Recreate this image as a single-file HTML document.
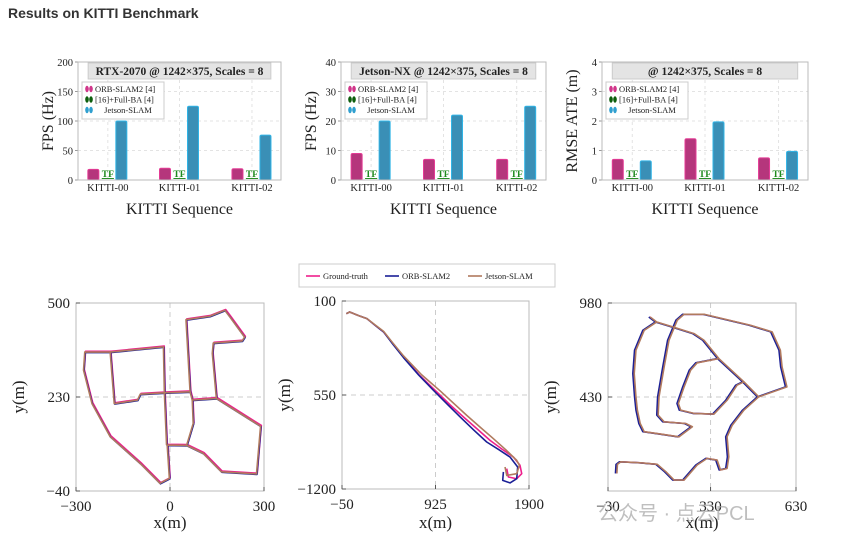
<!DOCTYPE html>
<html><head><meta charset="utf-8"><style>
body{margin:0;background:#fff;width:842px;height:546px;overflow:hidden;font-family:"Liberation Serif",serif;}
#title{position:absolute;left:8px;top:5px;font:bold 14px "Liberation Sans",sans-serif;color:#333;}
svg{position:absolute;left:0;top:0;}
</style></head><body>
<div id="title">Results on KITTI Benchmark</div>
<svg id="s" width="842" height="546" xmlns="http://www.w3.org/2000/svg"></svg>
<script>
const categories=["KITTI-00","KITTI-01","KITTI-02"];
const fpsRtxOrb=[18,20,19];
const fpsRtxJetson=[100,125,76];
const fpsNxOrb=[9,7,7];
const fpsNxJetson=[20,22,25];
const ateOrb=[0.7,1.4,0.75];
const ateJetson=[0.65,1.97,0.97];
const rtxTicks=[0,50,100,150,200];
const nxTicks=[0,10,20,30,40];
const ateTicks=[0,1,2,3,4];
// trajectories [x,y] in metres
const k00SegA=[[-191,359],[-272,359],[-276,307],[-249,211],[-191,116],[-95,39],[-32,-18],[-2,-4],[-9,92],[53,91],[106,68],[164,15],[276,9],[289,146],[148,226],[71,221],[64,245],[-19,242],[-95,238],[-104,221],[-178,211],[-191,359],[-21,374],[-18,242],[-11,92]];
const k00SegB=[[71,221],[74,154],[53,91]];
const k00SegC=[[64,245],[51,452],[127,462],[175,479],[191,460],[238,402],[230,391],[138,385],[135,355],[148,226]];
const k01Truth=[[-5,12],[30,24],[120,0],[210,-22],[300,-70],[384,-114],[480,-195],[592,-287],[760,-415],[939,-529],[1080,-620],[1217,-702],[1360,-785],[1494,-864],[1620,-925],[1737,-979],[1806,-1036],[1824,-1094],[1772,-1129],[1685,-1117],[1668,-1059]];
const k01Orb=[[-5,12],[30,24],[120,0],[210,-22],[300,-70],[384,-114],[480,-198],[592,-292],[750,-412],[904,-518],[1045,-612],[1182,-702],[1320,-790],[1459,-875],[1590,-930],[1702,-979],[1782,-1048],[1772,-1129],[1702,-1158],[1626,-1140],[1633,-1082]];
const k01Jetson=[[-5,12],[30,24],[120,0],[210,-22],[300,-68],[384,-110],[480,-190],[592,-280],[780,-410],[974,-522],[1110,-605],[1251,-691],[1390,-772],[1529,-852],[1660,-930],[1772,-1002],[1800,-1036],[1772,-1094],[1668,-1106],[1650,-1048]];
const k02SegA=[[116,898],[139,869],[188,844],[270,801],[305,762],[357,655],[445,519],[497,431],[596,489],[579,606],[573,704],[544,811],[468,850],[305,914],[235,914],[211,879],[182,762],[165,606],[147,431],[144,324],[165,285],[241,275],[264,256],[217,197],[153,213],[95,227],[81,275],[71,353],[66,431],[60,567],[66,704],[95,820],[139,869]];
const k02SegB=[[357,655],[281,630],[258,587],[235,489],[215,392],[223,353],[270,334],[340,330],[386,411],[421,499],[445,519]];
const k02SegC=[[497,431],[445,353],[404,265],[386,197],[392,80],[386,12],[363,3],[351,61],[316,71],[281,32],[235,-56],[200,-56],[171,-7],[141,36],[83,45],[13,51],[1,36],[-1,-17]];
const NS="http://www.w3.org/2000/svg";
const svg=document.getElementById('s');
function mk(tag,attrs,parent){const e=document.createElementNS(NS,tag);for(const k in attrs)e.setAttribute(k,attrs[k]);(parent||svg).appendChild(e);return e;}
function txt(x,y,s,size,anchor,extra){const t=mk('text',Object.assign({x:x,y:y,'font-size':size,'text-anchor':anchor||'middle','font-family':'"Liberation Serif",serif',fill:'#222'},extra||{}));t.textContent=s;return t;}

function barChart(L,R,T,B,ticks,orb,jet,title,ylabel,name){
  const g=mk('g',{});
  
  
  const max=ticks[ticks.length-1];
  const ys=v=>B-(v/max)*(B-T);
  const xs=i=>L+(R-L)*[0.147,0.5,0.857][i];
  ticks.forEach(t=>{const y=ys(t);
    if(t>0)mk('line',{x1:L,x2:R,y1:y,y2:y,stroke:'#e3e3e3','stroke-dasharray':'3,3'},g);
    mk('line',{x1:L-3,x2:L,y1:y,y2:y,stroke:'#999'},g);
    const tl=txt(L-5,y+4,String(t),10.5,'end',{});
    
    
  });
  categories.forEach((c,i)=>{const x=xs(i);
    mk('line',{x1:x,x2:x,y1:T,y2:B,stroke:'#e3e3e3','stroke-dasharray':'3,3'},g);
    const cl=txt(x,B+11,c,10.5,'middle');
    
    
    const r1=mk('rect',{x:x-20,y:ys(orb[i]),width:11,height:B-ys(orb[i]),fill:'#b5367c',stroke:'#e43b95','stroke-width':1,rx:1.5},g);
    
    
    const r2=mk('rect',{x:x+8,y:ys(jet[i]),width:11,height:B-ys(jet[i]),fill:'#3a8fb6',stroke:'#30b4e6','stroke-width':1,rx:1.5},g);
    
    
    const tf=txt(x,B-3,'TF',9.5,'middle',{fill:'#1e8a1e','font-weight':'bold','text-decoration':'underline'});
    
    
  });
  mk('rect',{x:L,y:T,width:R-L,height:B-T,fill:'none',stroke:'#bbb'},g);
  const tb=mk('rect',{x:L+(R-L)*0.05,y:T+1,width:(R-L)*0.9,height:16,fill:'#e4e4e4',stroke:'#ccc'},g);
  
  
  const tt=txt((L+R)/2,T+13,title,11.5,'middle',{'font-weight':'bold'});
  
  
  const lg=mk('rect',{x:L+4,y:T+20,width:82,height:37,fill:'#fff',stroke:'#ccc'},g);
  
  
  const items=[['#d0358a','ORB-SLAM2 [4]'],['#0d5e0d','[16]+Full-BA [4]'],['#2f9fcf','Jetson-SLAM']];
  items.forEach((it,k)=>{const y=T+30+k*10.5;
    mk('ellipse',{cx:L+9,cy:y-3,rx:1.8,ry:3.2,fill:it[0]},g);
    mk('ellipse',{cx:L+13,cy:y-3,rx:1.8,ry:3.2,fill:it[0]},g);
    const e=txt(k==2?L+50:L+17,y,it[1],8.5,k==2?'middle':'start');
    
    
  });
  const yl=txt(0,0,ylabel,16,'middle',{transform:`translate(${L-25},${(T+B)/2}) rotate(-90)`});
  
  
  const xl=txt((L+R)/2,214,'KITTI Sequence',16,'middle');
  
  
}
barChart(78,281,62,180,rtxTicks,fpsRtxOrb,fpsRtxJetson,'RTX-2070 @ 1242×375, Scales = 8','FPS (Hz)','fps-rtx-chart');
barChart(341,546,62,180,nxTicks,fpsNxOrb,fpsNxJetson,'Jetson-NX @ 1242×375, Scales = 8','FPS (Hz)','fps-nx-chart');
barChart(602,808,62,180,ateTicks,ateOrb,ateJetson,'@ 1242×375, Scales = 8','RMSE ATE (m)','rmse-chart');

function trajPlot(L,R,T,B,xd,yd,xt,xtl,yt,ytl,series,name){
  const g=mk('g',{});
  
  
  const sx=v=>L+(v-xd[0])/(xd[1]-xd[0])*(R-L);
  const sy=v=>B-(v-yd[0])/(yd[1]-yd[0])*(B-T);
  mk('line',{x1:sx(xt[1]),x2:sx(xt[1]),y1:T,y2:B,stroke:'#ccc','stroke-dasharray':'5,4'},g);
  mk('line',{x1:L,x2:R,y1:sy(yt[1]),y2:sy(yt[1]),stroke:'#ccc','stroke-dasharray':'5,4'},g);
  mk('rect',{x:L,y:T,width:R-L,height:B-T,fill:'none',stroke:'#bbb'},g);
  xt.forEach((v,i)=>{const t=txt(sx(v),B+20,xtl[i],15,'middle');
    mk('line',{x1:sx(v),x2:sx(v),y1:B,y2:B-4,stroke:'#555'},g);});
  yt.forEach((v,i)=>{const t=txt(L-6,sy(v)+5,ytl[i],15,'end');
    mk('line',{x1:L,x2:L+4,y1:sy(v),y2:sy(v),stroke:'#555'},g);});
  series.forEach(s=>{s.pts.forEach(p=>{
    const pl=mk('polyline',{points:p.map(q=>(sx(q[0])+s.dx)+','+(sy(q[1])+s.dy)).join(' '),fill:'none',stroke:s.c,'stroke-width':1.6,'stroke-linejoin':'round'},g);
    
    
  });});
  const xl=txt((L+R)/2,528,'x(m)',17,'middle');
  
  
  const yl=txt(0,0,'y(m)',17,'middle',{transform:`translate(${L-52},${(T+B)/2}) rotate(-90)`});
  
  
}
const P='#ee1f8c',O='#1a1f96',J='#b07a5e';
trajPlot(76,264,303,491,[-300,300],[-40,500],[-300,0,300],['−300','0','300'],[500,230,-40],['500','230','−40'],
 [{n:'ground-truth-line',c:P,dx:0.8,dy:-0.8,pts:[k00SegA,k00SegB,k00SegC]},{n:'orb-slam2-line',c:O,dx:0.5,dy:0.5,pts:[k00SegA,k00SegB,k00SegC]},{n:'jetson-slam-line',c:J,dx:0,dy:0,pts:[k00SegA,k00SegB,k00SegC]}],'kitti-00-trajectory');
trajPlot(342,529,301,489,[-50,1900],[-1200,100],[-50,925,1900],['−50','925','1900'],[100,-550,-1200],['100','550','−1200'],
 [{n:'ground-truth-line',c:P,dx:0,dy:0,pts:[k01Truth]},{n:'orb-slam2-line',c:O,dx:0,dy:0,pts:[k01Orb]},{n:'jetson-slam-line',c:J,dx:0,dy:0,pts:[k01Jetson]}],'kitti-01-trajectory');
trajPlot(608,796,303,491,[-30,630],[-120,980],[-30,330,630],['−30','330','630'],[980,430],['980','430'],
 [{n:'ground-truth-line',c:P,dx:0,dy:0,pts:[k02SegA,k02SegB,k02SegC]},{n:'orb-slam2-line',c:O,dx:-0.8,dy:0,pts:[k02SegA,k02SegB,k02SegC]},{n:'jetson-slam-line',c:J,dx:0.6,dy:0,pts:[k02SegA,k02SegB,k02SegC]}],'kitti-02-trajectory');

// shared legend
const lg=mk('rect',{x:299,y:264,width:256,height:23,fill:'#fff',stroke:'#ccc'});


[[P,'Ground-truth',306],[O,'ORB-SLAM2',385],[J,'Jetson-SLAM',468]].forEach(it=>{
  mk('line',{x1:it[2],x2:it[2]+14,y1:276,y2:276,stroke:it[0],'stroke-width':1.6});
  const t=txt(it[2]+17,279,it[1],8.5,'start');
  
  
});
const wm=txt(598,520,'公众号 · 点云PCL',20,'start',{fill:'#aaa','fill-opacity':0.75,'font-family':'"Liberation Sans","Noto Sans CJK SC",sans-serif'});


</script>
</body></html>
